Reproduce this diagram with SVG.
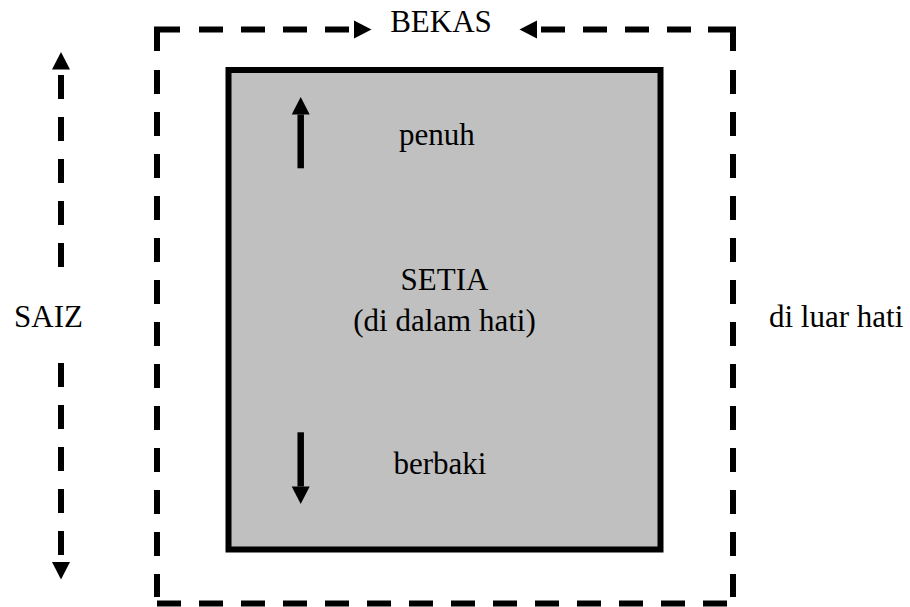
<svg xmlns="http://www.w3.org/2000/svg" width="910" height="607" viewBox="0 0 910 607">
  <style>
    .txt { font-family: "Liberation Serif", "Times New Roman", serif; font-size: 31px; fill: #000; }
    .dash { fill: none; stroke: #000; stroke-width: 6; stroke-dasharray: 24 18; }
    .solid { fill: none; stroke: #000; stroke-width: 6; stroke-linejoin: miter; }
    .shaft { fill: none; stroke: #000; stroke-width: 6.5; }
  </style>
  <defs>
    <marker id="head" markerUnits="userSpaceOnUse" markerWidth="18" markerHeight="18" viewBox="0 0 17.5 18" refX="0" refY="9" orient="auto" overflow="visible">
      <path d="M0,0 L17.5,9 L0,18 z" fill="#000"/>
    </marker>
  </defs>

  <g id="outer-boundary">
    <path class="solid" d="M157,51 V29.5 H180"/>
    <path class="solid" d="M708,29.5 H733 V51"/>
    <path class="dash" d="M157,70 V597"/>
    <path class="dash" d="M733,70 V597"/>
    <path class="dash" d="M157,603.5 H727"/>
  </g>

  <g id="inner-box">
    <rect x="228.5" y="70" width="432" height="479.5" fill="#c0c0c0" stroke="#000" stroke-width="6"/>
  </g>

  <g id="connectors">
    <path class="dash" d="M199,29.5 H354" marker-end="url(#head)"/>
    <path class="dash" d="M691,29.5 H537" marker-end="url(#head)"/>
    <path class="dash" d="M61,267 V69.5" marker-end="url(#head)"/>
    <path class="dash" d="M61,363 V562" marker-end="url(#head)"/>
    <path class="shaft" d="M300.7,168.3 V114.5" marker-end="url(#head)"/>
    <path class="shaft" d="M300.7,432.3 V486.5" marker-end="url(#head)"/>
  </g>

  <g id="label-bekas">
    <text class="txt" x="441" y="32" text-anchor="middle">BEKAS</text>
  </g>
  <g id="label-saiz">
    <text class="txt" x="48.5" y="327" text-anchor="middle">SAIZ</text>
  </g>
  <g id="label-luar">
    <text class="txt" x="769" y="327">di luar hati</text>
  </g>
  <g id="label-setia">
    <text class="txt" x="444.5" y="290" text-anchor="middle">SETIA</text>
    <text class="txt" x="444.5" y="331" text-anchor="middle">(di dalam hati)</text>
  </g>
  <g id="label-penuh">
    <text class="txt" x="437" y="145" text-anchor="middle">penuh</text>
  </g>
  <g id="label-berbaki">
    <text class="txt" x="440" y="474" text-anchor="middle">berbaki</text>
  </g>
</svg>
